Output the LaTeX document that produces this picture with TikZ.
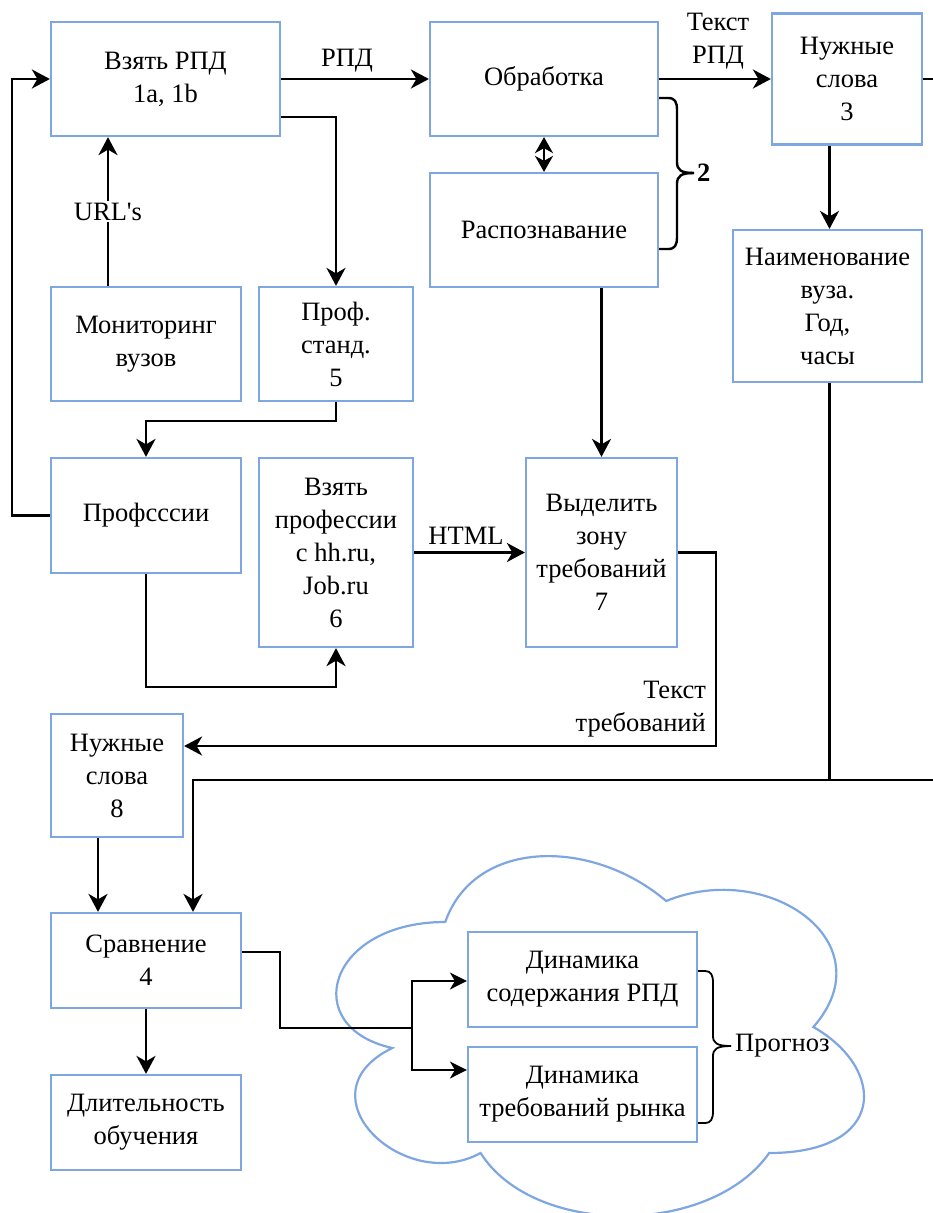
\documentclass[tikz,border=0pt]{standalone}
\usepackage{fontspec}
\setmainfont{Liberation Serif}
\usetikzlibrary{arrows.meta,calc}
\definecolor{boxblue}{RGB}{126,166,224}
\begin{document}
\begin{tikzpicture}[x=1pt,y=-1pt,
  font=\fontsize{26.5}{33}\selectfont,
  box/.style={draw=boxblue,line width=2.2pt,align=center,inner sep=0pt},
  conn/.style={line width=2.6pt,line join=miter},
  arr/.style={conn,-{Stealth[length=18pt,width=19pt,inset=5.5pt]}},
  arrtwo/.style={conn,{Stealth[length=16pt,width=18pt,inset=5pt]}-{Stealth[length=16pt,width=18pt,inset=5pt]}},
  thinconn/.style={line width=1.6pt},
  thinarr/.style={thinconn,-{Stealth[length=17pt,width=17pt,inset=5pt]}},
  lbl/.style={inner sep=1pt,align=center}]
\useasboundingbox (0,0) rectangle (932,1213);

% cloud
\draw[boxblue,line width=2.2pt] (445.25,922)
  .. controls (327.45,922) and (298,1027) .. (392.24,1048)
  .. controls (298,1094.2) and (404.02,1195) .. (480.59,1153)
  .. controls (533.6,1237) and (710.3,1237) .. (769.2,1153)
  .. controls (887,1153) and (887,1069) .. (813.375,1027)
  .. controls (887,943) and (769.2,859) .. (666.125,901)
  .. controls (592.5,838) and (474.7,838) .. (445.25,922) -- cycle;

% boxes
\node[box,minimum width=229pt,minimum height=114pt] (vzyat) at (165.5,79) {Взять РПД\\1a, 1b};
\node[box,minimum width=228pt,minimum height=114pt] (obr) at (544,79) {Обработка};
\node[box,minimum width=228pt,minimum height=114pt] (rasp) at (544,230) {Распознавание};
\node[box,minimum width=150pt,minimum height=131pt] (slova3) at (847,79) {Нужные\\слова\\3};
\node[box,minimum width=189pt,minimum height=152pt] (naim) at (827.5,306) {Наименование\\вуза.\\Год,\\часы};
\node[box,minimum width=190pt,minimum height=114pt] (monit) at (146,344) {Мониторинг\\вузов};
\node[box,minimum width=154pt,minimum height=114pt] (prof5) at (336,344) {Проф.\\станд.\\5};
\node[box,minimum width=190pt,minimum height=115pt] (profs) at (146,515.5) {Профсссии};
\node[box,minimum width=154pt,minimum height=189pt] (vzprof) at (336,552.5) {Взять\\профессии\\с hh.ru,\\Job.ru\\6};
\node[box,minimum width=151pt,minimum height=189pt] (vydel) at (601.5,552.5) {Выделить\\зону\\требований\\7};
\node[box,minimum width=132pt,minimum height=123pt] (slova8) at (117,775.5) {Нужные\\слова\\8};
\node[box,minimum width=190pt,minimum height=95pt] (sravn) at (146,960.5) {Сравнение\\4};
\node[box,minimum width=190pt,minimum height=95pt] (dlit) at (146,1122.5) {Длительность\\обучения};
\node[box,minimum width=229pt,minimum height=95pt] (din1) at (582.5,979.5) {Динамика\\содержания РПД};
\node[box,minimum width=229pt,minimum height=95pt] (din2) at (582.5,1094.5) {Динамика\\требований рынка};

% connectors
\draw[arr] (profs.west) -- ++(-38,0) |- (vzyat.west);
\draw[arr] (vzyat.east) -- (obr.west);
\node[lbl] (lrpd) at (347,61) {РПД};
\draw[arr] ([yshift=-38pt]vzyat.east) -| (prof5.north);
\draw[arr] ([xshift=-38pt]monit.north) -- ([xshift=-57.5pt]vzyat.south)
  node[pos=0.5,fill=white,inner sep=2pt] (lurl) {URL\textquotesingle s};
\draw[arrtwo] (obr.south) -- (rasp.north);

% brace 2
\coordinate (b2) at (694,173);
\draw[line width=2.4pt] ([yshift=-19pt]obr.east) -- ++(9,0)
  .. controls (675,98) and (677,102) .. (677,110) -- (677,162)
  .. controls (677,170) and (681,173) .. (b2);
\draw[line width=2.4pt] ([yshift=-19pt]rasp.east) -- ++(9,0)
  .. controls (675,249) and (677,245) .. (677,237) -- (677,184)
  .. controls (677,176) and (681,173) .. (b2);
\node[anchor=west,inner sep=0pt,font=\fontsize{26.5}{33}\selectfont\bfseries] (l2) at (697,173) {2};

\draw[arr] (obr.east) -- (slova3.west);
\node[lbl] (ltr) at (718,41) {Текст\\РПД};
\coordinate (redge1) at (940,79);
\draw[conn] (slova3.east) -- (redge1);
\draw[arr] ([xshift=-17.5pt]slova3.south) -- ([xshift=2pt]naim.north);
\coordinate (jn) at (829.5,780);
\coordinate (redge2) at (940,780);
\draw[conn] ([xshift=2pt]naim.south) -- (jn);
\draw[arr] (redge2) -| ([xshift=47pt]sravn.north);

\draw[arr] (rasp.south -| vydel.north) -- (vydel.north);
\draw[arr] (vzprof.east) -- (vydel.west);
\node[lbl] (lhtml) at (466,536) {HTML};
\draw[arr] (vydel.east) -- ++(38,0) |- ([yshift=29.5pt]slova8.east);
\node[lbl,anchor=east,align=right] (ltreb) at (707,709) {Текст\\требований};

\draw[arr] (prof5.south) -- ++(0,19) -| (profs.north);
\draw[arr] (profs.south) -- ++(0,113) -| (vzprof.south);

\draw[arr] ([xshift=-19pt]slova8.south) -- ([xshift=-48pt]sravn.north);
\draw[arr] (sravn.south) -- (dlit.north);

\coordinate (br) at (412,1028);
\draw[thinconn] ([yshift=8.5pt]sravn.east) -- ++(38,0) |- (br);
\draw[thinarr] (br) |- ([yshift=-1.5pt]din1.west);
\draw[thinarr] (br) |- ([yshift=24.5pt]din2.west);

% brace Прогноз
\coordinate (bp) at (731,1046);
\draw[line width=1.8pt] ([yshift=8.5pt]din1.east) -- ++(7,0)
  .. controls (711,971) and (713,975) .. (713,983) -- (713,1036)
  .. controls (713,1043) and (717,1046) .. (bp);
\draw[line width=1.8pt] ([yshift=-28.5pt]din2.east) -- ++(7,0)
  .. controls (711,1123) and (713,1119) .. (713,1111) -- (713,1056)
  .. controls (713,1049) and (717,1046) .. (bp);
\node[anchor=west,inner sep=0pt] (lprog) at (735,1046) {Прогноз};
\end{tikzpicture}
\end{document}
